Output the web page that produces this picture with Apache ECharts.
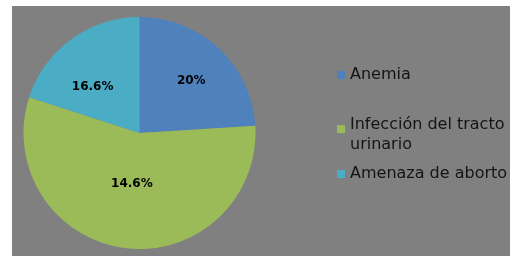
<!DOCTYPE html>
<html>
<head>
<meta charset="utf-8">
<script src="https://cdn.jsdelivr.net/npm/echarts@6/dist/echarts.min.js"></script>
<style>
  html, body { margin: 0; padding: 0; background: #fff; }
  #chart { position: absolute; left: 12px; top: 6px; width: 498px; height: 250px; }
</style>
</head>
<body>
<div id="chart"></div>
<script>
// datos
var categorias = ['Anemia', 'Infección del tracto\nurinario', 'Amenaza de aborto'];
var valores = [24, 56, 20];                 // tamaño de cada sector (según el ángulo)
var etiquetas = ['20%', '14.6%', '16.6%'];  // texto que muestra cada sector
var colores = ['#4F81BD', '#9BBB59', '#4BACC6'];

// desplazamiento de cada etiqueta respecto a su posición 'inside'
var despEtiqueta = [[10, -8], [0, -10], [-11, 3]];
// posición vertical de cada entrada de la leyenda
var topLeyenda = [59, 109, 158];

var centro = [127.5, 127];
var chart = echarts.init(document.getElementById('chart'));

// icono cuadrado, arriba para la entrada de dos líneas
var iconoCentro = 'path://M0,6H8V14H0Z M0,0L0.01,0 M0,20L0.01,20';
var iconoArriba = 'path://M0,0H8V8H0Z M0,0L0.01,0 M0,20L0.01,20';

var leyendas = categorias.map(function (c, i) {
  return {
    orient: 'vertical',
    left: 325,
    top: topLeyenda[i],
    padding: 0,
    itemWidth: 8,
    itemHeight: 20,
    icon: i === 1 ? iconoArriba : iconoCentro,
    selectedMode: false,
    textStyle: {
      fontFamily: 'DejaVu Sans',
      fontSize: 16,
      lineHeight: 20,
      color: '#141414'
    },
    data: [c]
  };
});

var option = {
  backgroundColor: '#808080',
  color: colores,
  animation: false,
  legend: leyendas,
  series: [{
    type: 'pie',
    center: centro,
    radius: 116,
    startAngle: 90,
    clockwise: true,
    silent: true,
    itemStyle: { borderWidth: 0 },
    label: {
      position: 'inside',
      fontFamily: 'DejaVu Sans',
      fontWeight: 'bold',
      fontSize: 12,
      color: '#000',
      formatter: function (p) { return etiquetas[p.dataIndex]; }
    },
    labelLine: { show: false },
    labelLayout: function (p) {
      var d = despEtiqueta[p.dataIndex];
      return { dx: d[0], dy: d[1] };
    },
    data: categorias.map(function (c, i) { return { name: c, value: valores[i] }; })
  }]
};

chart.setOption(option);
window.onresize = function () { chart.resize(); };
</script>
</body>
</html>
